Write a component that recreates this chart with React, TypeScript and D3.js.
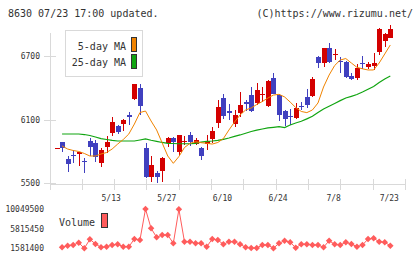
import React from "react";
import * as d3 from "d3";

// Trading days shown on the chart
const dates = [
  "4/24", "4/25", "4/26", "4/30", "5/1", "5/2", "5/7", "5/8", "5/9", "5/10",
  "5/13", "5/14", "5/15", "5/16", "5/17", "5/20", "5/21", "5/22", "5/23", "5/24",
  "5/27", "5/28", "5/29", "5/30", "5/31", "6/3", "6/4", "6/5", "6/6", "6/7",
  "6/10", "6/11", "6/12", "6/13", "6/14", "6/17", "6/18", "6/19", "6/20", "6/21",
  "6/24", "6/25", "6/26", "6/27", "6/28", "7/1", "7/2", "7/3", "7/4", "7/5",
  "7/8", "7/9", "7/10", "7/11", "7/12", "7/16", "7/17", "7/18", "7/19", "7/22",
  "7/23",
];

const opens = [
  5830, 5890, 5730, 5768, 5774, 5704, 5897, 5878, 5692, 5843,
  5975, 6039, 6057, 6145, 6291, 6395, 5828, 5554, 5597, 5616,
  5875, 5925, 5796, 5892, 5954, 5866, 5828, 5866, 5913, 6070,
  6303, 6180, 6062, 6164, 6268, 6331, 6259, 6331, 6228, 6495,
  6331, 6183, 6133, 6111, 6231, 6316, 6325, 6693, 6631, 6778,
  6712, 6656, 6646, 6511, 6495, 6634, 6593, 6608, 6735, 6845,
  6867,
];
const highs = [
  5834, 5892, 5755, 5812, 5796, 5733, 5928, 5906, 5834, 5944,
  6124, 6048, 6105, 6168, 6440, 6435, 5881, 5755, 5613, 5749,
  5937, 5937, 5954, 5944, 5985, 5922, 5837, 5954, 6032, 6284,
  6338, 6244, 6190, 6363, 6284, 6410, 6448, 6410, 6470, 6542,
  6341, 6190, 6196, 6259, 6268, 6385, 6505, 6703, 6776, 6820,
  6766, 6693, 6650, 6542, 6624, 6700, 6646, 6731, 6967, 6914,
  6993,
];
const lows = [
  5829, 5796, 5607, 5692, 5663, 5597, 5755, 5701, 5654, 5781,
  5947, 5963, 5991, 6048, 6285, 6142, 5550, 5512, 5503, 5512,
  5837, 5796, 5765, 5859, 5850, 5859, 5717, 5812, 5881, 6023,
  6105, 6095, 6032, 6126, 6180, 6174, 6237, 6268, 6215, 6338,
  6089, 6039, 6048, 6102, 6190, 6206, 6316, 6584, 6599, 6637,
  6662, 6536, 6489, 6473, 6473, 6577, 6574, 6568, 6709, 6788,
  6867,
];
const closes = [
  5833, 5826, 5682, 5762, 5793, 5700, 5843, 5749, 5812, 5890,
  6079, 5985, 6095, 6126, 6435, 6230, 5554, 5670, 5560, 5739,
  5925, 5890, 5954, 5898, 5890, 5906, 5758, 5897, 5994, 6221,
  6136, 6164, 6143, 6237, 6244, 6183, 6379, 6340, 6467, 6341,
  6143, 6102, 6121, 6211, 6224, 6237, 6483, 6631, 6773, 6640,
  6720, 6640, 6504, 6483, 6589, 6628, 6624, 6637, 6955, 6908,
  6955,
];

const ma5 = [
  null, 5850, 5821, 5807, 5798, 5779, 5755, 5755, 5774, 5788,
  5821, 5868, 5911, 5963, 6057, 6166, 6180, 6086, 6001, 5878,
  5755, 5686, 5750, 5835, 5875, 5890, 5881, 5875, 5868, 5883,
  5920, 6001, 6076, 6143, 6190, 6209, 6242, 6270, 6303, 6331,
  6338, 6313, 6265, 6213, 6176, 6165, 6190, 6256, 6407, 6520,
  6610, 6662, 6676, 6634, 6593, 6579, 6568, 6568, 6634, 6719,
  6804,
];
const ma25 = [
  null, 5963, 5963, 5963, 5963, 5958, 5949, 5935, 5920, 5911,
  5902, 5897, 5897, 5897, 5897, 5906, 5916, 5904, 5894, 5883,
  5875, 5873, 5871, 5871, 5871, 5875, 5887, 5894, 5897, 5902,
  5913, 5925, 5940, 5954, 5970, 5987, 5999, 6010, 6020, 6026,
  6032, 6024, 6048, 6067, 6083, 6106, 6130, 6166, 6199, 6225,
  6251, 6278, 6303, 6319, 6336, 6360, 6386, 6412, 6450, 6483,
  6511,
];

const volumes = [
  null, 1800000, 2140000, 2290000, 2790000, 1581400, 3520000, 2510000, 1800000, 1930000,
  2290000, 2440000, 1930000, 1930000, 3580000, 3370000, 10049500, 5890000, 3950000, 4440000,
  4440000, 2660000, 9980000, 3000000, 3000000, 2660000, 2660000, 1930000, 3580000, 3370000,
  2440000, 3000000, 3000000, 2440000, 1800000, 1620000, 1650000, 2290000, 2290000, 1610000,
  2660000, 3220000, 2870000, 1710000, 2440000, 2440000, 2290000, 2290000, 1800000, 3220000,
  2440000, 2290000, 2870000, 2510000, 1930000, 2290000, 3580000, 3730000, 3000000, 2870000,
  2140000,
];

const priceTicks = [5500, 6100, 6700];
const volumeTicks = [1581400, 5815450, 10049500];
const dateTicks = ["5/13", "5/27", "6/10", "6/24", "7/8", "7/23"];

const W = 420;
const H = 259;
const FONT = "'DejaVu Sans Mono', monospace";
const UP = "#d40000";
const DOWN = "#4040bf";
const AXIS = "#d9d9d9";
const VOL = "#ff5c5c";

const App = () => {
  const left = 50;
  const right = 405.5;
  const bottom = 184;

  const x = d3.scaleLinear().domain([0, dates.length - 1]).range([56.5, 390.3]);
  const y = d3.scaleLinear().domain([5500, 6700]).range([183, 56]);
  const yv = d3.scaleLinear().domain([1581400, 10049500]).range([248.3, 209]);

  const line = d3
    .line<number | null>()
    .defined((d) => d != null)
    .x((_, i) => x(i))
    .y((d) => y(d as number));

  const volLine = d3
    .line<number | null>()
    .defined((d) => d != null)
    .x((_, i) => x(i))
    .y((d) => yv(d as number));

  // evenly spaced frame ticks along the bottom axis
  const frameTicks = d3.range(12).map((k) => left + (k * (right - left)) / 11);

  const bw = 5;

  return (
    <svg
      width={W}
      height={H}
      style={{ position: "absolute", left: 0, top: 0, background: "#fff" }}
      fontFamily={FONT}
    >
      <rect width={W} height={H} fill="#fff" />
      <text x={8} y={17} fontSize={10} fill="#333">
        8630 07/23 17:00 updated.
      </text>
      <text x={413} y={17} fontSize={10} fill="#333" textAnchor="end">
        (C)https://www.rizumu.net/
      </text>

      {/* frame */}
      <g shapeRendering="crispEdges" stroke={AXIS}>
        <line x1={left} x2={left} y1={33} y2={190} />
        <line x1={left} x2={right} y1={bottom} y2={bottom} />
        {frameTicks.map((t, k) => (
          <line key={k} x1={t} x2={t} y1={bottom - 5} y2={bottom + 6} />
        ))}
        {priceTicks.map((p) => (
          <line key={p} x1={left - 6} x2={left + 6} y1={Math.round(y(p))} y2={Math.round(y(p))} />
        ))}
      </g>
      {priceTicks.map((p) => (
        <text key={p} x={40} y={y(p) + 3} fontSize={8} fill="#333" textAnchor="end">
          {p}
        </text>
      ))}
      {dateTicks.map((d) => (
        <text
          key={d}
          x={x(dates.indexOf(d)) - 1}
          y={201}
          fontSize={8}
          fill="#333"
          textAnchor="middle"
        >
          {d}
        </text>
      ))}

      {/* legend */}
      <rect x={65.5} y={30.5} width={77} height={46} fill="#fff" stroke={AXIS} shapeRendering="crispEdges" />
      <text x={126} y={50} fontSize={10} fill="#333" textAnchor="end">
        5-day MA
      </text>
      <text x={126} y={66} fontSize={10} fill="#333" textAnchor="end">
        25-day MA
      </text>
      <rect x={131.5} y={37.5} width={5} height={14} fill="#f08300" stroke="#333" shapeRendering="crispEdges" />
      <rect x={131.5} y={54.5} width={5} height={14} fill="#11a511" stroke="#333" shapeRendering="crispEdges" />

      {/* candles */}
      <g shapeRendering="crispEdges">
        {dates.map((_, i) => {
          const o = opens[i];
          const c = closes[i];
          const col = c >= o ? UP : DOWN;
          const cx = Math.round(x(i));
          const top = y(Math.max(o, c));
          const h = Math.max(1, y(Math.min(o, c)) - top);
          return (
            <g key={i}>
              <line x1={cx + 0.5} x2={cx + 0.5} y1={y(highs[i])} y2={y(lows[i])} stroke={col} />
              <rect x={cx - 2} y={top} width={bw} height={h} fill={col} />
            </g>
          );
        })}
      </g>

      {/* moving averages */}
      <path d={line(ma25) || ""} fill="none" stroke="#11a511" strokeWidth={1.2} />
      <path d={line(ma5) || ""} fill="none" stroke="#f08300" strokeWidth={1} />

      {/* volume */}
      {volumeTicks.map((v) => (
        <text key={v} x={44} y={yv(v) + 3} fontSize={8} fill="#333" textAnchor="end">
          {v}
        </text>
      ))}
      <text x={59} y={226} fontSize={10} fill="#333">
        Volume
      </text>
      <rect x={101.5} y={213.5} width={6} height={14} fill={VOL} stroke="#333" shapeRendering="crispEdges" />
      <path d={volLine(volumes) || ""} fill="none" stroke={VOL} strokeWidth={1} />
      {volumes.map((v, i) =>
        v == null ? null : (
          <rect
            key={i}
            x={x(i) - 2.3}
            y={yv(v) - 2.3}
            width={4.6}
            height={4.6}
            fill={VOL}
            transform={`rotate(45 ${x(i)} ${yv(v)})`}
          />
        )
      )}
    </svg>
  );
};

export default App;
